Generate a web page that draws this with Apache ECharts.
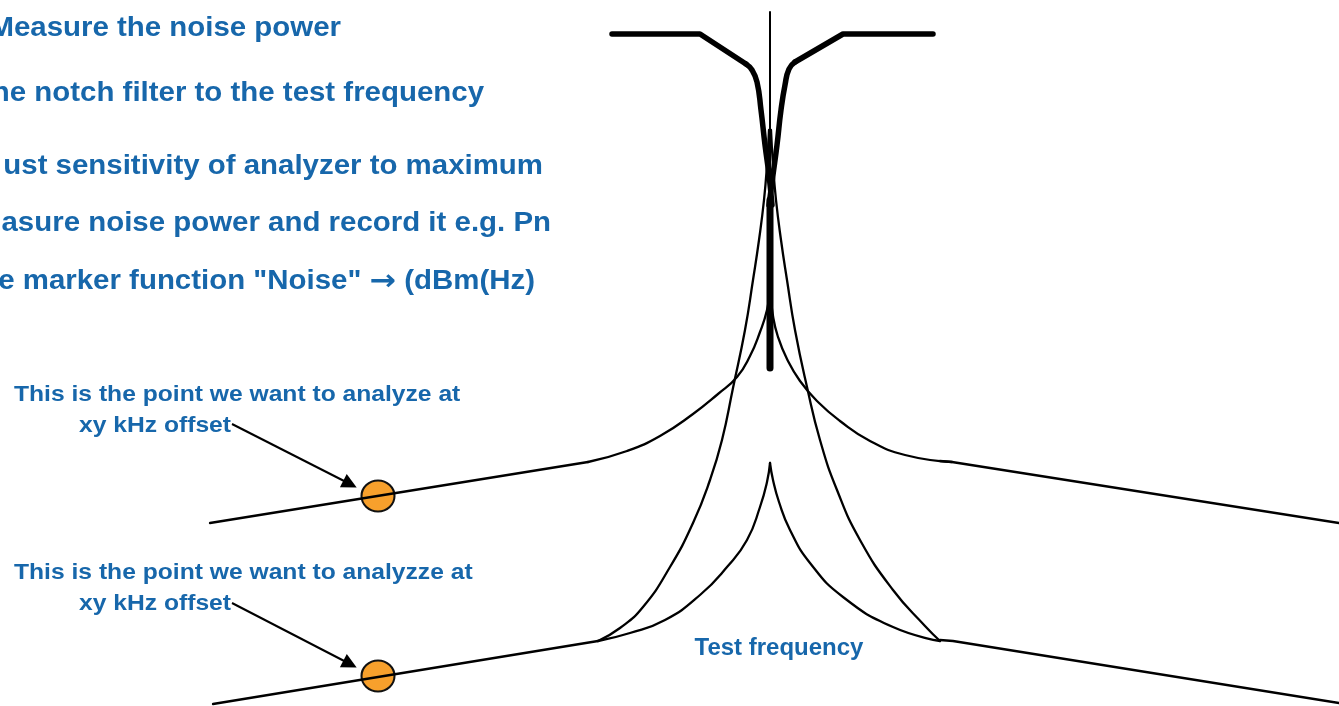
<!DOCTYPE html>
<html>
<head>
<meta charset="utf-8">
<script src="https://cdn.jsdelivr.net/npm/echarts@6/dist/echarts.min.js"></script>
<style>html,body{margin:0;padding:0;background:#fff;}#c{width:1339px;height:706px;}</style>
</head>
<body>
<div id="c"></div>
<script>
// ---- data (pixel-space coordinates of the sketch) ----
const instructionLines = [
  'Measure the noise power',
  'he notch filter to the test frequency',
  'ust sensitivity of analyzer to maximum',
  'asure noise power and record it e.g. Pn',
  'e marker function "Noise" \u2192 (dBm(Hz)'
];
const annotationUpper = ['This is the point we want to analyze at', 'xy kHz offset'];
const annotationLower = ['This is the point we want to analyzze at', 'xy kHz offset'];
const centerLabel = 'Test frequency';

// upper spectrum (carrier + noise)
const upperBaseLeft  = [[210,523],[588,462]];
const upperCurveLeft = [[588,462],[627,451],[660,436],[693,414],[718,394],[737,377],[750,356],[760,332],[767,310],[770,290]];
const upperCurveRight= [[770,290],[773,316],[778,337],[787,359],[800,381],[818,402],[840,421],[870,441],[905,455],[952,462]];
const upperBaseRight = [[940,461],[952,462],[1339,523]];
const carrierLine    = [[770,12],[770,300]];

// lower spectrum (after notch)
const lowerBaseLeft  = [[213,704],[598,641]];
const lowerOuterLeft = [[598,641],[620,628],[643,607],[670,567],[693,523],[710,480],[722,440],[733,388],[745,330],[753,280],[759,240],[764,200],[767,165],[769,130]];
const lowerOuterRight= [[771,130],[773,165],[776,200],[781,240],[787,280],[795,330],[807,387],[820,440],[837,490],[860,540],[893,590],[925,626],[940,641]];
const lowerInnerLeft = [[598,641],[630,633],[665,620],[700,595],[727,567],[747,540],[760,507],[767,482],[770,463]];
const lowerInnerRight= [[770,463],[773,480],[779,502],[790,530],[810,563],[843,597],[893,627],[940,641]];
const lowerBaseRight = [[940,640],[953,641],[1339,703]];

// notch filter shape
const notchLeftFlat   = [[612,34],[700,34],[746,64]];
const notchLeftCurve  = [[746,64],[752,70],[757,82],[761,110],[765,145],[769,175],[772,205]];
const notchRightFlat  = [[933,34],[843,34],[795,62]];
const notchRightCurve = [[795,62],[789,69],[785,85],[781,110],[777,145],[773,175],[769,205]];
const notchBar        = [[770,200],[770,368]];

// analysis points and arrows
const analysisPoints = [[378,496],[378,676]];
const arrows = [[[232,424],[350,484]], [[232,603],[350,664]]];

// ---- chart ----
const BLUE = '#1767AB';
const FONT = '"Liberation Sans", Arial, sans-serif';
const chart = echarts.init(document.getElementById('c'), null, {renderer:'canvas'});

function thin(data, smooth, w) {
  return {type:'line', data:data, showSymbol:false, smooth:smooth, silent:true, z:3,
    lineStyle:{color:'#000', width:w||2.3, cap:'round', join:'round'}};
}
function thick(data, smooth, w) {
  return {type:'line', data:data, showSymbol:false, smooth:smooth, silent:true, z:4,
    lineStyle:{color:'#000', width:w, cap:'round', join:'round'}};
}

const graphics = [];
const instrPos = [[341,29],[484,94],[543,167],[551,224],[535,282]];
instructionLines.forEach((t,i)=>{
  graphics.push({type:'text', x:instrPos[i][0], y:instrPos[i][1], scaleX:1.09,
    style:{text:t.replace('\u2192','{a|\u2192}'), fill:BLUE, font:'bold 27px '+FONT, align:'right', verticalAlign:'middle',
      rich:{a:{font:'bold 29px "DejaVu Sans", sans-serif', fill:BLUE, verticalAlign:'middle'}}}});
});
function annot(lines, y0) {
  graphics.push({type:'text', x:14, y:y0, scaleX:1.12,
    style:{text:lines[0], fill:BLUE, font:'bold 22px '+FONT, align:'left', verticalAlign:'middle'}});
  graphics.push({type:'text', x:79, y:y0+31, scaleX:1.12,
    style:{text:lines[1], fill:BLUE, font:'bold 22px '+FONT, align:'left', verticalAlign:'middle'}});
}
annot(annotationUpper, 395);
annot(annotationLower, 573);
graphics.push({type:'text', x:779, y:648,
  style:{text:centerLabel, fill:BLUE, font:'bold 24px '+FONT, align:'center', verticalAlign:'middle'}});

chart.setOption({
  animation:false,
  backgroundColor:'#fff',
  grid:{left:0,right:0,top:0,bottom:0},
  xAxis:{type:'value', min:0, max:1339, show:false},
  yAxis:{type:'value', min:0, max:706, inverse:true, show:false},
  series:[
    {type:'scatter', data:analysisPoints, symbol:'circle', symbolSize:[33,31], z:2, silent:true,
      itemStyle:{color:'#F7A02C', borderColor:'#111', borderWidth:2, opacity:1}},
    thin(upperBaseLeft,false), thin(upperCurveLeft,0.5), thin(upperCurveRight,0.5), thin(upperBaseRight,false),
    thin(carrierLine,false,2),
    thin(lowerBaseLeft,false), thin(lowerOuterLeft,0.5), thin(lowerOuterRight,0.5),
    thin(lowerInnerLeft,0.5), thin(lowerInnerRight,0.5), thin(lowerBaseRight,false),
    thick(notchLeftFlat,false,5.5), thick(notchLeftCurve,0.5,5.5),
    thick(notchRightFlat,false,5.5), thick(notchRightCurve,0.5,5.5),
    thick(notchBar,false,7),
    {type:'lines', coordinateSystem:'cartesian2d', silent:true, z:5,
      symbol:['none','triangle'], symbolSize:15,
      lineStyle:{color:'#000', width:2, opacity:1},
      data:arrows.map(a=>({coords:a}))}
  ],
  graphic:graphics
});
</script>
</body>
</html>
